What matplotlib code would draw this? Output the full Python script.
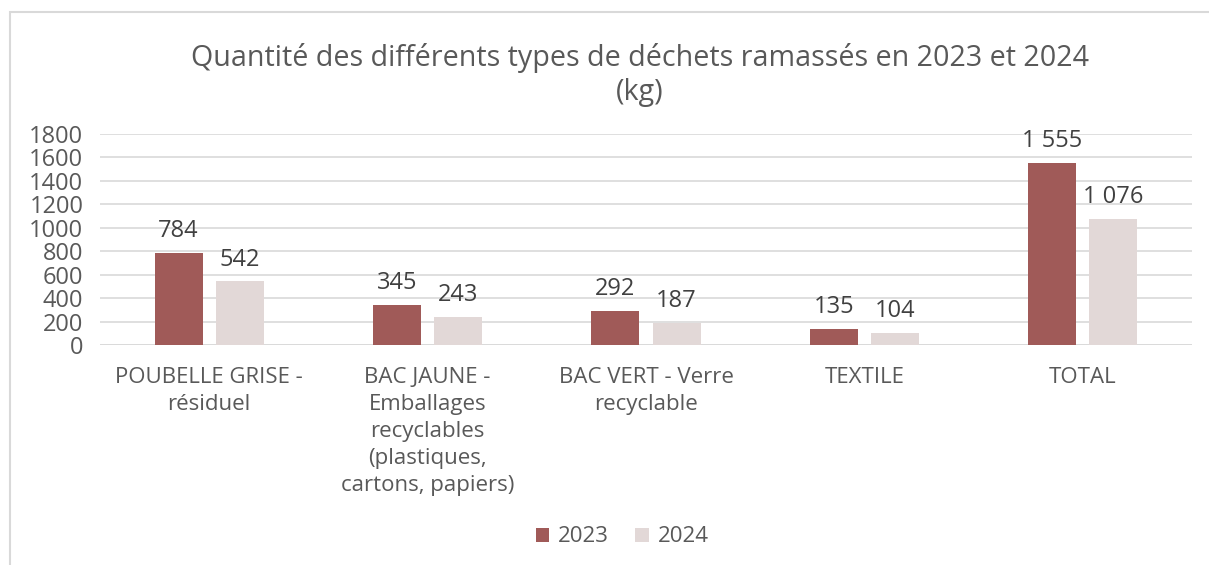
import matplotlib
matplotlib.use("Agg")
import matplotlib.pyplot as plt
import numpy as np
from matplotlib.patches import Rectangle

categories = ["POUBELLE GRISE -\nrésiduel",
              "BAC JAUNE -\nEmballages\nrecyclables\n(plastiques,\ncartons, papiers)",
              "BAC VERT - Verre\nrecyclable",
              "TEXTILE",
              "TOTAL"]
values_2023 = [784, 345, 292, 135, 1555]
values_2024 = [542, 243, 187, 104, 1076]
series_names = ["2023", "2024"]
yticks = [0, 200, 400, 600, 800, 1000, 1200, 1400, 1600, 1800]

def fmt(v):
    return f"{v:,}".replace(",", " ")

plt.rcParams['font.family'] = ['Open Sans', 'DejaVu Sans']

fig = plt.figure(figsize=(12.09, 5.65), dpi=100)
fig.patches.append(Rectangle((10/1209, -0.01), 1.02, 1 - 12/565 + 0.01, transform=fig.transFigure,
                             fill=False, edgecolor='#D9D9D9', linewidth=1.5))
ax = fig.add_axes([100/1209, 1 - 345/565, 1092/1209, (345 - 134)/565])

x = np.arange(len(categories))
w = 0.22
off = 0.14
c1 = '#A05A58'
c2 = '#E2D8D7'
b1 = ax.bar(x - off, values_2023, w, color=c1, label=series_names[0], zorder=3)
b2 = ax.bar(x + off, values_2024, w, color=c2, label=series_names[1], zorder=3)
for bars, vals in ((b1, values_2023), (b2, values_2024)):
    for r, v in zip(bars, vals):
        ax.annotate(fmt(v), (r.get_x() + r.get_width()/2, v), xytext=(0, 7),
                    textcoords='offset points', ha='center', va='bottom',
                    fontsize=17, color='#404040')

ax.set_xlim(-0.5, 4.5)
ax.set_ylim(0, 1800)
ax.set_yticks(yticks)
ax.set_yticklabels([str(t) for t in yticks], fontsize=17, color='#595959')
ax.set_xticks(x)
ax.set_xticklabels(categories, fontsize=16, color='#595959', linespacing=1.37)
ax.tick_params(axis='both', length=0)
ax.tick_params(axis='x', pad=16)
ax.tick_params(axis='y', pad=12)
ax.grid(axis='y', color='#D9D9D9', linewidth=1.2, zorder=0)
for s in ax.spines.values():
    s.set_visible(False)
ax.axhline(0, color='#D9D9D9', linewidth=1.2, zorder=1)

fig.text(640/1209, 1 - 75/565, "Quantité des différents types de déchets ramassés en 2023 et 2024\n(kg)",
         ha='center', va='center', fontsize=20.6, color='#595959', linespacing=1.25)

leg = fig.legend(handles=[b1, b2], labels=series_names, loc='center', bbox_to_anchor=(622/1209, 1 - 537/565),
                 ncol=2, frameon=False, fontsize=16, handlelength=0.6, handleheight=0.6,
                 columnspacing=1.2, handletextpad=0.4)
for t in leg.get_texts():
    t.set_color('#595959')

fig.savefig("out.png", dpi=100)
